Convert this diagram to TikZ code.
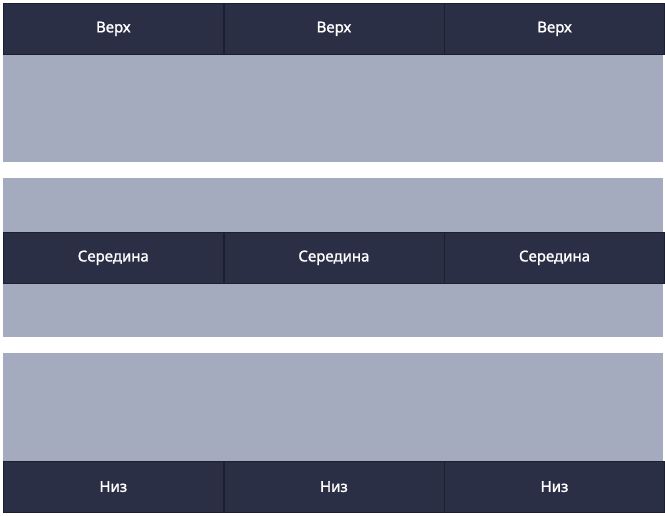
\documentclass[tikz,border=0pt]{standalone}
\usepackage{fontspec}
\setmainfont{Noto Sans}
\newfontfamily\cellfont{Noto Sans}[FakeBold=1.4]
\usetikzlibrary{positioning}
\definecolor{barblue}{HTML}{2B2F45}
\definecolor{panelgray}{HTML}{A5ABBE}
\begin{document}
\begin{tikzpicture}[x=1pt,y=-1pt,
    panel/.style={fill=panelgray,inner sep=0pt,minimum width=660pt,minimum height=159pt,anchor=north west},
    cell/.style={fill=barblue,draw=black!35!barblue,line width=0.6pt,text=white,font=\cellfont\fontsize{15}{17}\selectfont,inner sep=0pt,minimum width=220pt,minimum height=51pt}]
  \useasboundingbox (0,0) rectangle (665,515);
  \node[panel] (top) at (3,3) {};
  \node[panel] (mid) at (3,178) {};
  \node[panel] (bot) at (3,353) {};
  \node[cell,anchor=north west] (t1) at (top.north west) {Верх};
  \node[cell,right=0pt of t1] (t2) {Верх};
  \node[cell,right=0pt of t2] (t3) {Верх};
  \node[cell,anchor=north west] (m1) at (3,232) {Середина};
  \node[cell,right=0pt of m1] (m2) {Середина};
  \node[cell,right=0pt of m2] (m3) {Середина};
  \node[cell,anchor=south west] (b1) at (bot.south west) {Низ};
  \node[cell,right=0pt of b1] (b2) {Низ};
  \node[cell,right=0pt of b2] (b3) {Низ};
\end{tikzpicture}
\end{document}
